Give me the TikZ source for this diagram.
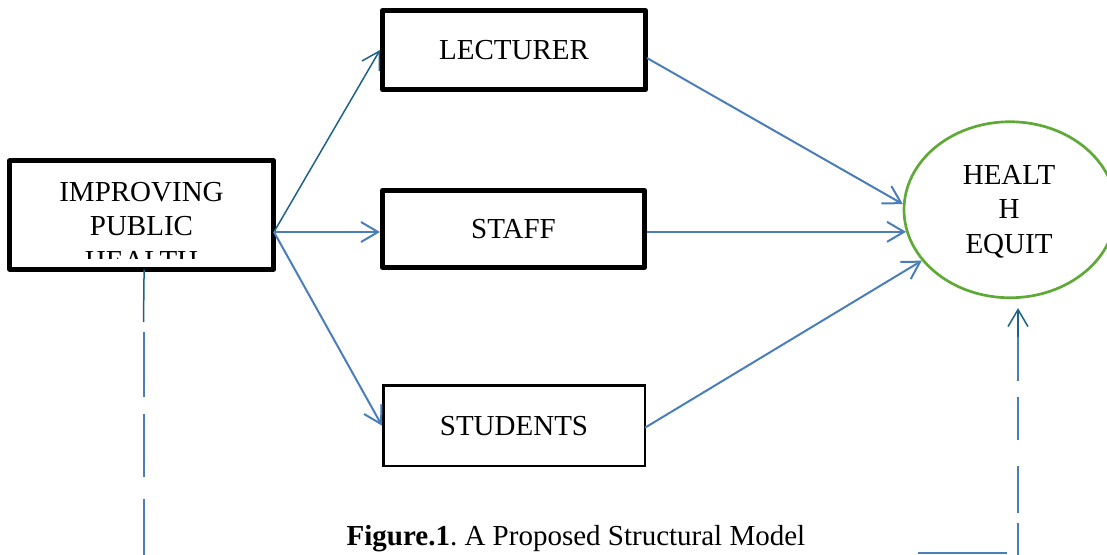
\documentclass[tikz,border=0pt]{standalone}
\usepackage{fontspec}
\setmainfont{Liberation Serif}
\usetikzlibrary{arrows.meta,shapes.geometric,calc}
\definecolor{linkblue}{RGB}{74,126,187}
\definecolor{linkteal}{RGB}{31,98,135}
\definecolor{ringgreen}{RGB}{95,170,55}
\frenchspacing
\tikzset{
  bigtext/.style={font=\fontsize{29}{34.5}\selectfont},
  heavybox/.style={rectangle, draw=black, line width=5pt, line join=round, inner sep=0pt, bigtext},
  lightbox/.style={rectangle, draw=black, line width=2.5pt, inner sep=0pt, bigtext},
  barb/.style={-{Straight Barb[length=17pt,width=20pt]}},
  link/.style={draw=linkblue, line width=2pt, barb},
  darklink/.style={draw=linkteal, line width=1.5pt},
  dashlink/.style={draw=linkblue, line width=2pt},
}
\begin{document}
\begin{tikzpicture}[x=1pt, y=-1pt]
\useasboundingbox (0,0) rectangle (1107,554);

% boxes
\node[heavybox, minimum width=263.7pt, minimum height=108.4pt] (imp) at (141.6,215) {};
\node[heavybox, minimum width=263pt, minimum height=79pt] (lect) at (514,50) {LECTURER};
\node[heavybox, minimum width=262pt, minimum height=77pt] (staff) at (513.5,229) {STAFF};
\node[lightbox, minimum width=261.5pt, minimum height=80.5pt] (stud) at (514,425.7) {STUDENTS};

% outcome ellipse
\node[ellipse, draw=ringgreen, line width=2.7pt, inner sep=0pt,
      minimum width=212pt, minimum height=176pt] (he) at (1010,209.75) {};
\node[bigtext, anchor=north, inner sep=0pt, align=center] (het) at (1009,165) {HEALT\\H\\EQUIT};

% label of the first box, cut off at its lower edge
\begin{scope}
  \clip (imp.north west) rectangle ($(imp.south east)+(0,-13.5)$);
  \node[bigtext, anchor=north, inner sep=0pt, align=center] (impt) at (141.5,181.7) {IMPROVING\\PUBLIC\\HEALTH};
\end{scope}

% fan-out from the first box
\coordinate (fork) at ($(imp.east)+(-2,17)$);
\draw[link, darklink] (fork) -- (lect.west);
\draw[link] (fork) -- (fork -| staff.west);
\draw[link] (fork) -- (stud.west);

% links into the ellipse
\draw[link] ($(lect.east)+(-1,8)$) -- (he.177);
\draw[link] (staff.east |- he.192) -- (he.192);
\draw[link] ($(stud.east)+(-1,2)$) -- (he.210);

% dashed line below the first box
\coordinate (ltop) at ($(imp.south)+(2.5,-2)$);
\coordinate (lmid) at (143.5,322);
\coordinate (lbot) at (143.5,556);
\draw[darklink] (ltop) -- (lmid);
\draw[dashlink, dash pattern=on 0pt off 10pt on 65pt off 17pt on 63pt off 22pt on 80pt] (lmid) -- (lbot);

% dashed arrow up to the ellipse
\coordinate (rbot) at (1018,556);
\coordinate (rmid) at (1018,337);
\coordinate (rtip) at ($(he.south -| rmid)+(0,9)$);
\draw[dashlink, dash pattern=on 33pt off 10pt on 47pt off 26pt on 43pt off 16pt on 44pt] (rbot) -- (rmid);
\draw[darklink, barb] (rmid) -- (rtip);

% short line at the bottom edge
\coordinate (ba) at (918,553);
\coordinate (bb) at (1007,553);
\draw[dashlink] (ba) -- (bb);

% caption
\node[bigtext, anchor=base, inner sep=0pt] (cap) at (576,545) {\textbf{Figure.1}. A Proposed Structural Model};
\end{tikzpicture}
\end{document}
